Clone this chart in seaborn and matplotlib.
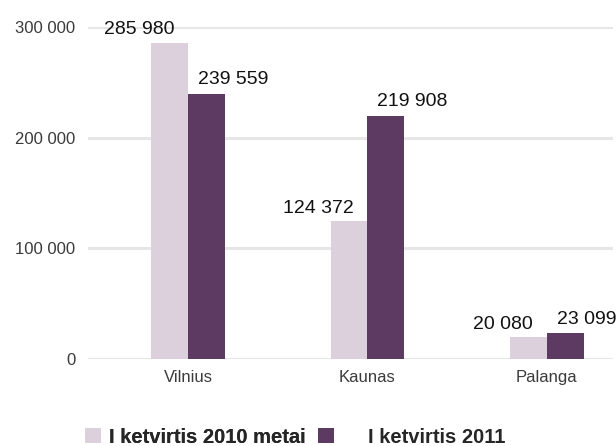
import pandas as pd
import matplotlib
matplotlib.use("Agg")
import matplotlib.pyplot as plt
from matplotlib.ticker import FuncFormatter
import seaborn as sns

# Duomenys
miestai = ["Vilnius", "Kaunas", "Palanga"]
serijos = ["I ketvirtis 2010 metai", "I ketvirtis 2011"]
reiksmes_2010 = [285980, 124372, 20080]
reiksmes_2011 = [239559, 219908, 23099]
y_ticks = [0, 100000, 200000, 300000]

spalvos = ["#dbd0db", "#5c3a62"]

df = pd.DataFrame({
    "miestas": miestai * 2,
    "serija": [serijos[0]] * 3 + [serijos[1]] * 3,
    "reiksme": reiksmes_2010 + reiksmes_2011,
})

sns.set_theme(style="white")
plt.rcParams["font.family"] = ["Liberation Sans", "DejaVu Sans"]

def tarpai(v):
    return f"{int(round(v)):,}".replace(",", " ")

fig = plt.figure(figsize=(6.16, 4.46), dpi=100)
ax = fig.add_axes([0.143, 0.195, 0.852, 0.7445])

sns.barplot(data=df, x="miestas", y="reiksme", hue="serija", order=miestai,
            hue_order=serijos, palette=spalvos, width=0.41, ax=ax,
            linewidth=0, saturation=1, legend=True)

ax.set_ylim(0, 300000)
ax.set_xlim(-0.557, 2.368)
ax.set_yticks(y_ticks)
ax.yaxis.set_major_formatter(FuncFormatter(lambda v, p: tarpai(v)))
ax.set_xlabel("")
ax.set_ylabel("")
ax.grid(axis="y", color="#e6e6e6", linewidth=2.2)
ax.grid(axis="x", visible=False)
ax.set_axisbelow(True)
for s in ax.spines.values():
    s.set_visible(False)
ax.tick_params(axis="y", length=0, pad=9, labelsize=12, labelcolor="#3a3a3a")
ax.tick_params(axis="x", length=0, pad=8, labelsize=12, labelcolor="#3a3a3a")

# Reikšmių etiketės
for i, cont in enumerate(ax.containers):
    for bar in cont:
        h = bar.get_height()
        if i == 0:
            ax.annotate(tarpai(h), (bar.get_x() + bar.get_width(), h),
                        xytext=(-10, 3), textcoords="offset points",
                        ha="right", va="bottom", fontsize=14, color="#111111",
                        annotation_clip=False)
        else:
            ax.annotate(tarpai(h), (bar.get_x(), h),
                        xytext=(7, 4), textcoords="offset points",
                        ha="left", va="bottom", fontsize=14, color="#111111",
                        annotation_clip=False)

handles, labels = ax.get_legend_handles_labels()
ax.get_legend().remove()

# Dvi atskiros legendos, kad tarpai būtų kaip originale
leg_prop = {"size": 14.5, "weight": "bold"}
leg1 = fig.legend(handles[:1], labels[:1], loc="center left",
                  bbox_to_anchor=(0.138, 0.02), frameon=False,
                  handlelength=0.8, handleheight=0.8, handletextpad=0.4,
                  borderpad=0, borderaxespad=0, prop=leg_prop)
fig.add_artist(leg1)
fig.legend(handles[1:], labels[1:], loc="center left",
           bbox_to_anchor=(0.516, 0.02), frameon=False,
           handlelength=0.8, handleheight=0.8, handletextpad=1.7,
           borderpad=0, borderaxespad=0, prop=leg_prop)

fig.savefig("out.png", dpi=100)
